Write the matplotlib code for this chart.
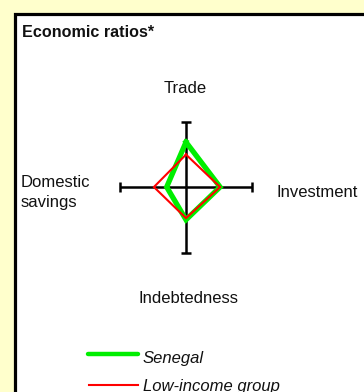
import matplotlib
matplotlib.use("Agg")
import matplotlib.pyplot as plt
from matplotlib.patches import Rectangle

# ---- data ----
axes_labels = ["Trade", "Investment", "Indebtedness", "Domestic savings"]
series_names = ["Senegal", "Low-income group"]
senegal = [1.37, 1.04, 1.00, 0.59]
low_income = [0.99, 1.04, 0.95, 0.98]
axis_max = 2.0

plt.rcParams['font.family'] = ['Liberation Sans', 'DejaVu Sans']

W, H, DPI = 364, 392, 100
fig = plt.figure(figsize=(W / DPI, H / DPI), dpi=DPI)
fig.patch.set_facecolor('#FFFFCC')

# overlay axes in pixel coordinates
bg = fig.add_axes([0, 0, 1, 1])
bg.set_xlim(0, W)
bg.set_ylim(H, 0)
bg.axis('off')
bg.add_patch(Rectangle((14.5, 13.5), 400, 420, facecolor='white',
                       edgecolor='black', lw=2.3, zorder=0))

# radar chart axes
cx, cy, arm, half = 186, 187, 65.5, 100
lim = half / arm * axis_max
ax = fig.add_axes([(cx - half) / W, (H - cy - half) / H, 2 * half / W, 2 * half / H])
ax.set_xlim(-lim, lim)
ax.set_ylim(-lim, lim)
ax.axis('off')

cap = 0.14
# spokes: up, right, down, left
dirs = [(0, 1), (1, 0), (0, -1), (-1, 0)]
for dx, dy in dirs:
    ax.plot([0, dx * axis_max], [0, dy * axis_max], color='black', lw=1.8,
            solid_capstyle='butt', zorder=1)
    ex, ey = dx * axis_max, dy * axis_max
    ax.plot([ex - dy * cap, ex + dy * cap], [ey - dx * cap, ey + dx * cap],
            color='black', lw=1.8, solid_capstyle='butt', zorder=1)

def poly(vals):
    xs = [d[0] * v for d, v in zip(dirs, vals)]
    ys = [d[1] * v for d, v in zip(dirs, vals)]
    return xs + xs[:1], ys + ys[:1]

xs, ys = poly(senegal)
ax.plot(xs, ys, color='#00EE00', lw=3.8, solid_joinstyle='miter', zorder=2)
xs, ys = poly(low_income)
ax.plot(xs, ys, color='#FF0000', lw=1.5, solid_joinstyle='miter', zorder=3)

fs = 12
bg.text(185, 93, axes_labels[0], ha='center', va='baseline', fontsize=fs, color='#111111')
bg.text(277, 197, axes_labels[1], ha='left', va='baseline', fontsize=fs, color='#111111')
bg.text(188, 303, axes_labels[2], ha='center', va='baseline', fontsize=fs, color='#111111')
w1, w2 = axes_labels[3].split(' ')
bg.text(21, 187, w1, ha='left', va='baseline', fontsize=fs, color='#111111')
bg.text(21, 207, w2, ha='left', va='baseline', fontsize=fs, color='#111111')

bg.text(22, 37, "Economic ratios*", ha='left', va='baseline', fontsize=11.6,
        fontweight='bold', color='#111111')

# legend
bg.plot([88, 138], [354, 354], color='#00EE00', lw=3.2, solid_capstyle='round')
bg.text(143, 363, series_names[0], ha='left', va='baseline', fontsize=fs,
        style='italic', color='#111111')
bg.plot([89, 138], [385, 385], color='#FF0000', lw=1.5)
bg.text(143, 391, series_names[1], ha='left', va='baseline', fontsize=fs,
        style='italic', color='#111111')

fig.savefig('out.png', dpi=DPI, facecolor=fig.get_facecolor())
